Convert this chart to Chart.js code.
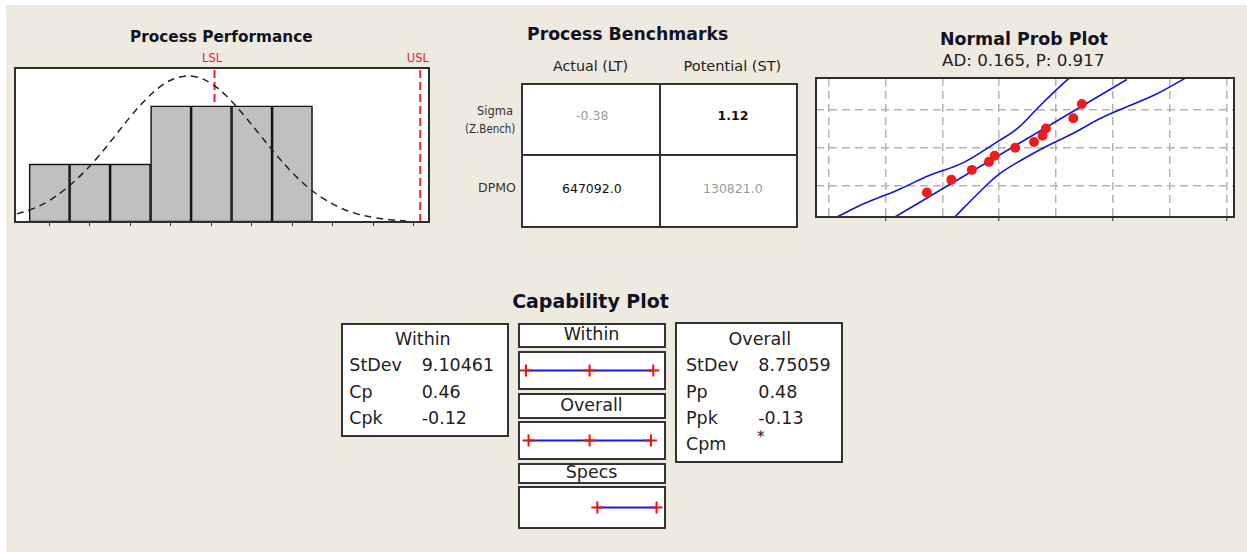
<!DOCTYPE html>
<html><head><meta charset="utf-8">
<script src="https://cdn.jsdelivr.net/npm/chart.js@4.4.1/dist/chart.umd.min.js"></script>
<style>
html,body{margin:0;padding:0;background:#fff;}
#root{position:relative;width:1247px;height:552px;overflow:hidden;background:#fff;font-family:"DejaVu Sans",sans-serif;}
#bg{position:absolute;left:6px;top:5px;right:0;bottom:0;background:#eeeae0;}
.box{position:absolute;box-sizing:border-box;border:2px solid #333;background:#fff;}
.ln{position:absolute;background:#333;}
.t{position:absolute;white-space:nowrap;}
canvas{position:absolute;}
</style></head><body><div id="root"><div id="bg"></div></div>
<script>
// ---------- data ----------
const histBinMid = [15, 20, 25, 30, 35, 40, 45];
const histCounts = [1, 1, 1, 2, 2, 2, 2];
const histTicks = [15, 20, 25, 30, 35, 40, 45, 50, 55, 60];
const fitX = [11,13,15,17,19,21,23,25,27,29,31,33,35,37,39,41,43,45,47,49,51,53,55,57,59];
const fitY = [0.14,0.23,0.37,0.57,0.82,1.12,1.46,1.81,2.12,2.36,2.49,2.50,2.38,2.15,1.84,1.50,1.16,0.85,0.59,0.39,0.24,0.14,0.08,0.04,0.02];
const specNames = ['LSL', 'USL'];
const specValues = [35.4, 60.8];

const benchCols = ['Actual (LT)', 'Potential (ST)'];
const benchRowLabels = [['Sigma', '(Z.Bench)'], ['DPMO']];
const benchValues = [['-0.38', '1.12'], ['647092.0', '130821.0']];

const probX = [17.3, 21.6, 25.2, 28.2, 29.2, 32.8, 36.1, 37.6, 38.2, 43.0, 44.5];
const probY = [-1.17, -0.84, -0.58, -0.37, -0.21, 0.00, 0.15, 0.31, 0.50, 0.77, 1.14];
const fitLineX = [11.7, 52.4];
const fitLineY = [-1.81, 1.78];
const upperBandX = [1.5, 6.3, 12.1, 17.8, 23.7, 29.5, 33.1, 36.6, 39.5, 42.2];
const upperBandY = [-1.81, -1.46, -1.11, -0.72, -0.39, 0.14, 0.49, 1.01, 1.44, 1.81];
const lowerBandX = [22.2, 26.6, 30.1, 34.3, 38.0, 42.9, 47.7, 52.6, 57.7, 62.6];
const lowerBandY = [-1.81, -1.15, -0.68, -0.29, 0.01, 0.37, 0.76, 1.08, 1.41, 1.81];
const probGridX = [0, 10, 20, 30, 40, 50, 60, 70];
const probGridY = [-1, 0, 1];

const withinStats = [['StDev', '9.10461'], ['Cp', '0.46'], ['Cpk', '-0.12']];
const overallStats = [['StDev', '8.75059'], ['Pp', '0.48'], ['Ppk', '-0.13'], ['Cpm', '*']];
const withinInterval = [4.8, 32.1, 59.4];
const overallInterval = [5.9, 32.1, 58.4];
const specInterval = [35.4, 60.8];

// ---------- helpers ----------
const root = document.getElementById('root');
function el(cls, l, t, w, h) {
  const d = document.createElement('div'); d.className = cls;
  Object.assign(d.style, {left: l + 'px', top: t + 'px', width: w + 'px', height: h + 'px'});
  root.appendChild(d); return d;
}
function mkCanvas(l, t, w, h) {
  const c = document.createElement('canvas'); c.width = w; c.height = h;
  Object.assign(c.style, {left: l + 'px', top: t + 'px', width: w + 'px', height: h + 'px'});
  root.appendChild(c); return c;
}
function txt(s, x, y, o = {}) {
  const d = document.createElement('div'); d.className = 't'; d.textContent = s;
  const size = o.size || 12;
  d.style.fontSize = size + 'px'; d.style.lineHeight = size + 'px';
  d.style.fontWeight = o.bold ? 'bold' : 'normal';
  d.style.color = o.color || '#222';
  d.style.top = (y - size / 2) + 'px';
  root.appendChild(d);
  const w = d.offsetWidth;
  const align = o.align || 'center';
  d.style.left = (align === 'center' ? x - w / 2 : align === 'right' ? x - w : x) + 'px';
  if (o.w) {
    d.style.transformOrigin = align === 'center' ? '50% 50%' : align === 'right' ? '100% 50%' : '0 50%';
    d.style.transform = 'scaleX(' + (o.w / w) + ')';
  }
  return d;
}
const framePlugin = {
  id: 'frame',
  beforeDraw(c) {
    const a = c.chartArea, x = c.ctx; x.save(); x.fillStyle = '#fff';
    x.fillRect(a.left, a.top, a.right - a.left, a.bottom - a.top); x.restore();
  },
  afterDraw(c) {
    const a = c.chartArea, x = c.ctx; x.save(); x.strokeStyle = '#2e2e2e'; x.lineWidth = 2;
    x.strokeRect(a.left, a.top, a.right - a.left, a.bottom - a.top); x.restore();
  }
};
const common = {
  responsive: false, devicePixelRatio: 1, animation: false, events: [],
  plugins: {legend: {display: false}, tooltip: {enabled: false}}
};
const pts = (xs, ys) => xs.map((x, i) => ({x, y: ys[i]}));

// ---------- Process Performance (histogram) ----------
const histYMax = 2.65;
const hc = mkCanvas(13, 66, 418, 163);
const hist = new Chart(hc, {
  type: 'bar',
  data: {datasets: [
    {type: 'line', data: pts(fitX, fitY), borderColor: '#222', borderWidth: 1.5, borderDash: [7, 5],
     pointRadius: 0, tension: 0.4, order: 0},
    {type: 'bar', data: pts(histBinMid, histCounts), backgroundColor: '#c0c0c0', borderColor: '#141414',
     borderWidth: 1.6, borderSkipped: false, barPercentage: 1, categoryPercentage: 1, order: 1},
    ...specValues.map(v => ({type: 'line', data: [{x: v, y: 0}, {x: v, y: histYMax}], borderColor: '#ee2030',
      borderWidth: 2, borderDash: [8, 4], pointRadius: 0, order: 2}))
  ]},
  options: {...common, layout: {padding: {left: 2, right: 2, top: 2, bottom: 2}, autoPadding: false},
    scales: {
      x: {type: 'linear', offset: false, min: 10.76, max: 61.88,
        afterBuildTicks: s => { s.ticks = histTicks.map(v => ({value: v})); },
        ticks: {display: false},
        grid: {offset: false, drawOnChartArea: false, drawTicks: true, tickLength: 4, tickColor: '#333', tickWidth: 1},
        border: {display: false}, afterFit: s => { s.height = 5; }},
      y: {display: false, min: 0, max: histYMax}
    }},
  plugins: [framePlugin]
});
specValues.forEach((v, i) => {
  const px = 13 + hist.scales.x.getPixelForValue(v);
  txt(specNames[i], px - 2.5, 58.5, {size: 11.5, color: '#ee2030'});
});
txt('Process Performance', 221.5, 37.5, {size: 15.3, bold: true, color: '#121224', w: 183});

// ---------- Process Benchmarks ----------
txt('Process Benchmarks', 627.5, 35, {size: 17.3, bold: true, color: '#121224', w: 201});
el('box', 521, 83, 277, 145);
el('ln', 659, 83, 2, 145);
el('ln', 521, 154, 277, 2);
txt(benchCols[0], 590.8, 66.5, {size: 13.5, w: 75});
txt(benchCols[1], 732.5, 66.5, {size: 13.5, w: 98});
txt(benchRowLabels[0][0], 513, 112, {size: 11.5, align: 'right', color: '#333'});
txt(benchRowLabels[0][1], 515, 129.5, {size: 11.5, align: 'right', color: '#333', w: 50});
txt(benchRowLabels[1][0], 516, 188.5, {size: 12.5, align: 'right', color: '#333'});
txt(benchValues[0][0], 592, 116.5, {size: 12.5, color: '#9a9a9a'});
txt(benchValues[0][1], 733, 116.5, {size: 12.5, bold: true, color: '#111'});
txt(benchValues[1][0], 592, 189.5, {size: 12.5, color: '#111'});
txt(benchValues[1][1], 733, 189.5, {size: 12.5, color: '#9a9a9a'});

// ---------- Normal Prob Plot ----------
txt('Normal Prob Plot', 1024, 40, {size: 17.4, bold: true, color: '#121224', w: 168});
txt('AD: 0.165, P: 0.917', 1023.3, 61.7, {size: 16.5, color: '#222', w: 163});
const pc = mkCanvas(814, 76, 422, 148);
new Chart(pc, {
  type: 'line',
  data: {datasets: [
    {data: pts(probX, probY), showLine: false, pointRadius: 5, pointBackgroundColor: '#ee1c1c',
     pointBorderWidth: 0, order: 0},
    {data: pts(fitLineX, fitLineY), borderColor: '#1414d8', borderWidth: 1.6, pointRadius: 0, order: 1},
    {data: pts(upperBandX, upperBandY), borderColor: '#1414d8', borderWidth: 1.6, pointRadius: 0, tension: 0.4, order: 1},
    {data: pts(lowerBandX, lowerBandY), borderColor: '#1414d8', borderWidth: 1.6, pointRadius: 0, tension: 0.4, order: 1}
  ]},
  options: {...common, layout: {padding: {left: 2, right: 2, top: 2, bottom: 2}, autoPadding: false},
    scales: {
      x: {type: 'linear', min: -2.16, max: 71.2,
        afterBuildTicks: s => { s.ticks = probGridX.map(v => ({value: v})); },
        ticks: {display: false},
        grid: {color: '#b4b4b4', lineWidth: 1.5, drawTicks: true, tickLength: 4, tickWidth: 1,
          tickColor: c => (c.index % 2 === 1 ? '#333' : 'rgba(0,0,0,0)')},
        border: {display: false, dash: [8, 5]}, afterFit: s => { s.height = 5; }},
      y: {type: 'linear', min: -1.81, max: 1.82,
        afterBuildTicks: s => { s.ticks = probGridY.map(v => ({value: v})); },
        ticks: {display: false},
        grid: {color: '#b4b4b4', lineWidth: 1.5, drawTicks: false},
        border: {display: false, dash: [8, 5]}, afterFit: s => { s.width = 0; }}
    }},
  plugins: [framePlugin]
});

// ---------- Capability Plot ----------
txt('Capability Plot', 590, 301.7, {size: 19, bold: true, color: '#121224', w: 156.7});
const capFont = 17.5;
// left box (Within)
el('box', 341, 323, 168, 114);
txt('Within', 423, 339.5, {size: capFont});
const rowsY = [366, 392.5, 419, 445];
withinStats.forEach((r, i) => {
  txt(r[0], 349.3, rowsY[i], {size: capFont, align: 'left'});
  txt(r[1], 421.7, rowsY[i], {size: capFont, align: 'left'});
});
// right box (Overall)
el('box', 675, 322, 168, 141);
txt('Overall', 760, 339.5, {size: capFont});
overallStats.forEach((r, i) => {
  txt(r[0], 686, rowsY[i], {size: capFont, align: 'left'});
  if (r[1] === '*') txt(r[1], 761, rowsY[i] - 7.5, {size: 15});
  else txt(r[1], 758.3, rowsY[i], {size: capFont, align: 'left'});
});
// middle column
const midBoxes = [
  ['Within', 323, 25, 351, 39, withinInterval],
  ['Overall', 393, 26, 421, 39, overallInterval],
  ['Specs', 463, 21, 486, 43, specInterval]
];
midBoxes.forEach(([name, ht, hh, pt, ph, vals]) => {
  el('box', 518, ht, 148, hh);
  txt(name, 591.7, ht + hh / 2 - 0.5, {size: capFont});
  el('box', 518, pt, 148, ph);
  const c = mkCanvas(520, pt + 2, 144, ph - 4);
  new Chart(c, {
    type: 'line',
    data: {datasets: [{data: vals.map(v => ({x: v, y: 0})), borderColor: '#1a1aee', borderWidth: 2,
      pointStyle: 'cross', pointRadius: 6, pointBorderColor: '#ee1111', pointBorderWidth: 2,
      pointBackgroundColor: '#ee1111'}]},
    options: {...common, layout: {padding: 0, autoPadding: false},
      scales: {x: {type: 'linear', display: false, min: 2.23, max: 63.99},
               y: {display: false, min: -1, max: 1}}}
  });
});
</script></body></html>
